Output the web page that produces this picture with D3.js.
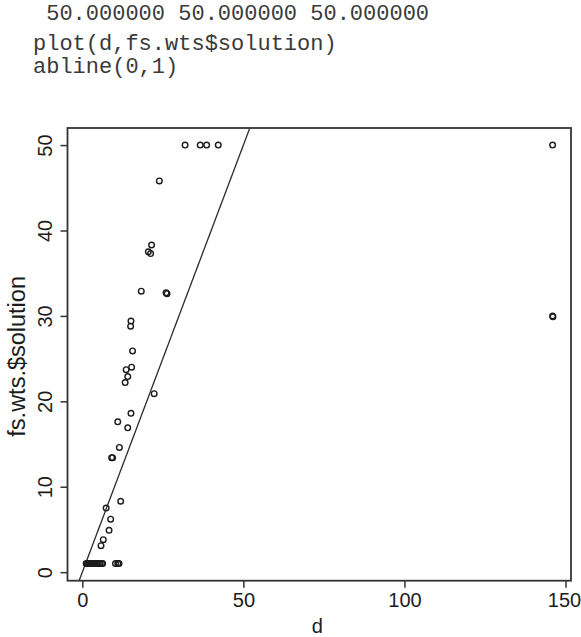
<!DOCTYPE html>
<html>
<head>
<meta charset="utf-8">
<script src="https://cdn.jsdelivr.net/npm/d3@7"></script>
<style>
  html, body { margin: 0; padding: 0; background: #fff; }
  svg { display: block; }
</style>
</head>
<body>
<svg id="chart" width="581" height="637"></svg>
<script>
// Console lines printed above the plot
const consoleLines = [
  " 50.000000 50.000000 50.000000",
  "plot(d,fs.wts$solution)",
  "abline(0,1)"
];

// d values (x) and fs.wts$solution values (y), point by point
const dVals = [
  31.9, 36.6, 38.6, 42.2, 146.0,
  23.9,
  21.5, 20.5, 21.2,
  18.3, 26.0, 26.3,
  146.0, 146.1,
  15.1, 15.0,
  15.6,
  15.3, 13.6, 14.1, 13.3,
  22.3,
  15.1,
  11.0,
  14.1,
  11.5,
  9.1, 9.4,
  11.9,
  7.4,
  8.8,
  8.3,
  6.5,
  5.8,
  1.2, 1.6, 2.0, 2.4, 2.8, 3.2, 3.6, 4.0, 4.5, 5.0, 5.5, 6.0, 6.3,
  10.3, 11.0, 11.4
];
const solVals = [
  50, 50, 50, 50, 50,
  45.8,
  38.3, 37.5, 37.3,
  32.9, 32.7, 32.6,
  30.0, 29.9,
  29.4, 28.8,
  25.9,
  24.0, 23.7, 22.9, 22.2,
  20.9,
  18.6,
  17.6,
  16.9,
  14.6,
  13.4, 13.4,
  8.3,
  7.5,
  6.2,
  4.9,
  3.8,
  3.1,
  1, 1, 1, 1, 1, 1, 1, 1, 1, 1, 1, 1, 1,
  1, 1, 1
];

// Axis ticks and limits
const xTicks = [0, 50, 100, 150];
const yTicks = [0, 10, 20, 30, 40, 50];
const xLimits = [-4.6, 151.7];
const yLimits = [-1.0, 52.0];
// Reference line y = a + b x
const ablineCoef = [0, 1];

const svg = d3.select("#chart");
const plot = { left: 67.5, right: 571, top: 128, bottom: 580.7 };

const x = d3.scaleLinear().domain(xLimits).range([plot.left, plot.right]);
const y = d3.scaleLinear().domain(yLimits).range([plot.bottom, plot.top]);

const ink = "#1c1c1c";
const sans = "'Liberation Sans', Arial, Helvetica, sans-serif";

// Console text
svg.append("g")
  .selectAll("text")
  .data(consoleLines)
  .join("text")
  .attr("x", 33)
  .attr("y", (d, i) => [20, 50, 73][i])
  .attr("font-family", "'Liberation Mono', 'Courier New', monospace")
  .attr("font-size", 22)
  .attr("fill", "#3a3a3a")
  .style("white-space", "pre")
  .text(d => d);

// Clip region for the plotting area
svg.append("clipPath").attr("id", "plotClip")
  .append("rect")
  .attr("x", plot.left).attr("y", plot.top)
  .attr("width", plot.right - plot.left)
  .attr("height", plot.bottom - plot.top);

// abline(0,1)
const lineData = xLimits.map(v => [v, ablineCoef[0] + ablineCoef[1] * v]);
svg.append("path")
  .attr("clip-path", "url(#plotClip)")
  .attr("d", d3.line().x(p => x(p[0])).y(p => y(p[1]))(lineData))
  .attr("fill", "none")
  .attr("stroke", "#2a2a2a")
  .attr("stroke-width", 1.3);

// Points (open circles)
const pts = dVals.map((d, i) => ({ d, v: solVals[i] }));
svg.append("g")
  .selectAll("circle")
  .data(pts)
  .join("circle")
  .attr("cx", p => x(p.d))
  .attr("cy", p => y(p.v))
  .attr("r", 2.8)
  .attr("fill", "none")
  .attr("stroke", ink)
  .attr("stroke-width", 1.4);

// Box
svg.append("rect")
  .attr("x", plot.left).attr("y", plot.top)
  .attr("width", plot.right - plot.left)
  .attr("height", plot.bottom - plot.top)
  .attr("fill", "none")
  .attr("stroke", "#333")
  .attr("stroke-width", 1.8);

// X axis
const xAxis = d3.axisBottom(x).tickValues(xTicks).tickSize(7).tickPadding(5).tickFormat(d3.format("d"));
const gx = svg.append("g").attr("transform", `translate(0,${plot.bottom})`).call(xAxis);
gx.select(".domain").remove();
gx.selectAll(".tick line").attr("stroke", "#333").attr("stroke-width", 1.5);
gx.selectAll(".tick text")
  .attr("font-family", sans)
  .attr("font-size", 20)
  .attr("fill", ink);
// keep the last label inside the page edge
gx.selectAll(".tick text").filter(d => d === xTicks[xTicks.length - 1]).attr("dx", -1.5);

// Y axis
const yAxis = d3.axisLeft(y).tickValues(yTicks).tickSize(7).tickFormat(d3.format("d"));
const gy = svg.append("g").attr("transform", `translate(${plot.left},0)`).call(yAxis);
gy.select(".domain").remove();
gy.selectAll(".tick line").attr("stroke", "#333").attr("stroke-width", 1.5);
gy.selectAll(".tick text")
  .attr("x", null).attr("dy", null)
  .attr("transform", `translate(${51.5 - plot.left},0) rotate(-90)`)
  .attr("text-anchor", "middle")
  .attr("font-family", sans)
  .attr("font-size", 20)
  .attr("fill", ink);

// Axis titles
svg.append("text")
  .attr("x", (plot.left + plot.right) / 2 - 2)
  .attr("y", 633)
  .attr("text-anchor", "middle")
  .attr("font-family", sans)
  .attr("font-size", 20)
  .attr("fill", ink)
  .text("d");

svg.append("text")
  .attr("transform", `translate(25,${(plot.top + plot.bottom) / 2 + 2}) rotate(-90)`)
  .attr("text-anchor", "middle")
  .attr("font-family", sans)
  .attr("font-size", 23.5)
  .attr("fill", ink)
  .text("fs.wts.$solution");
</script>
</body>
</html>
